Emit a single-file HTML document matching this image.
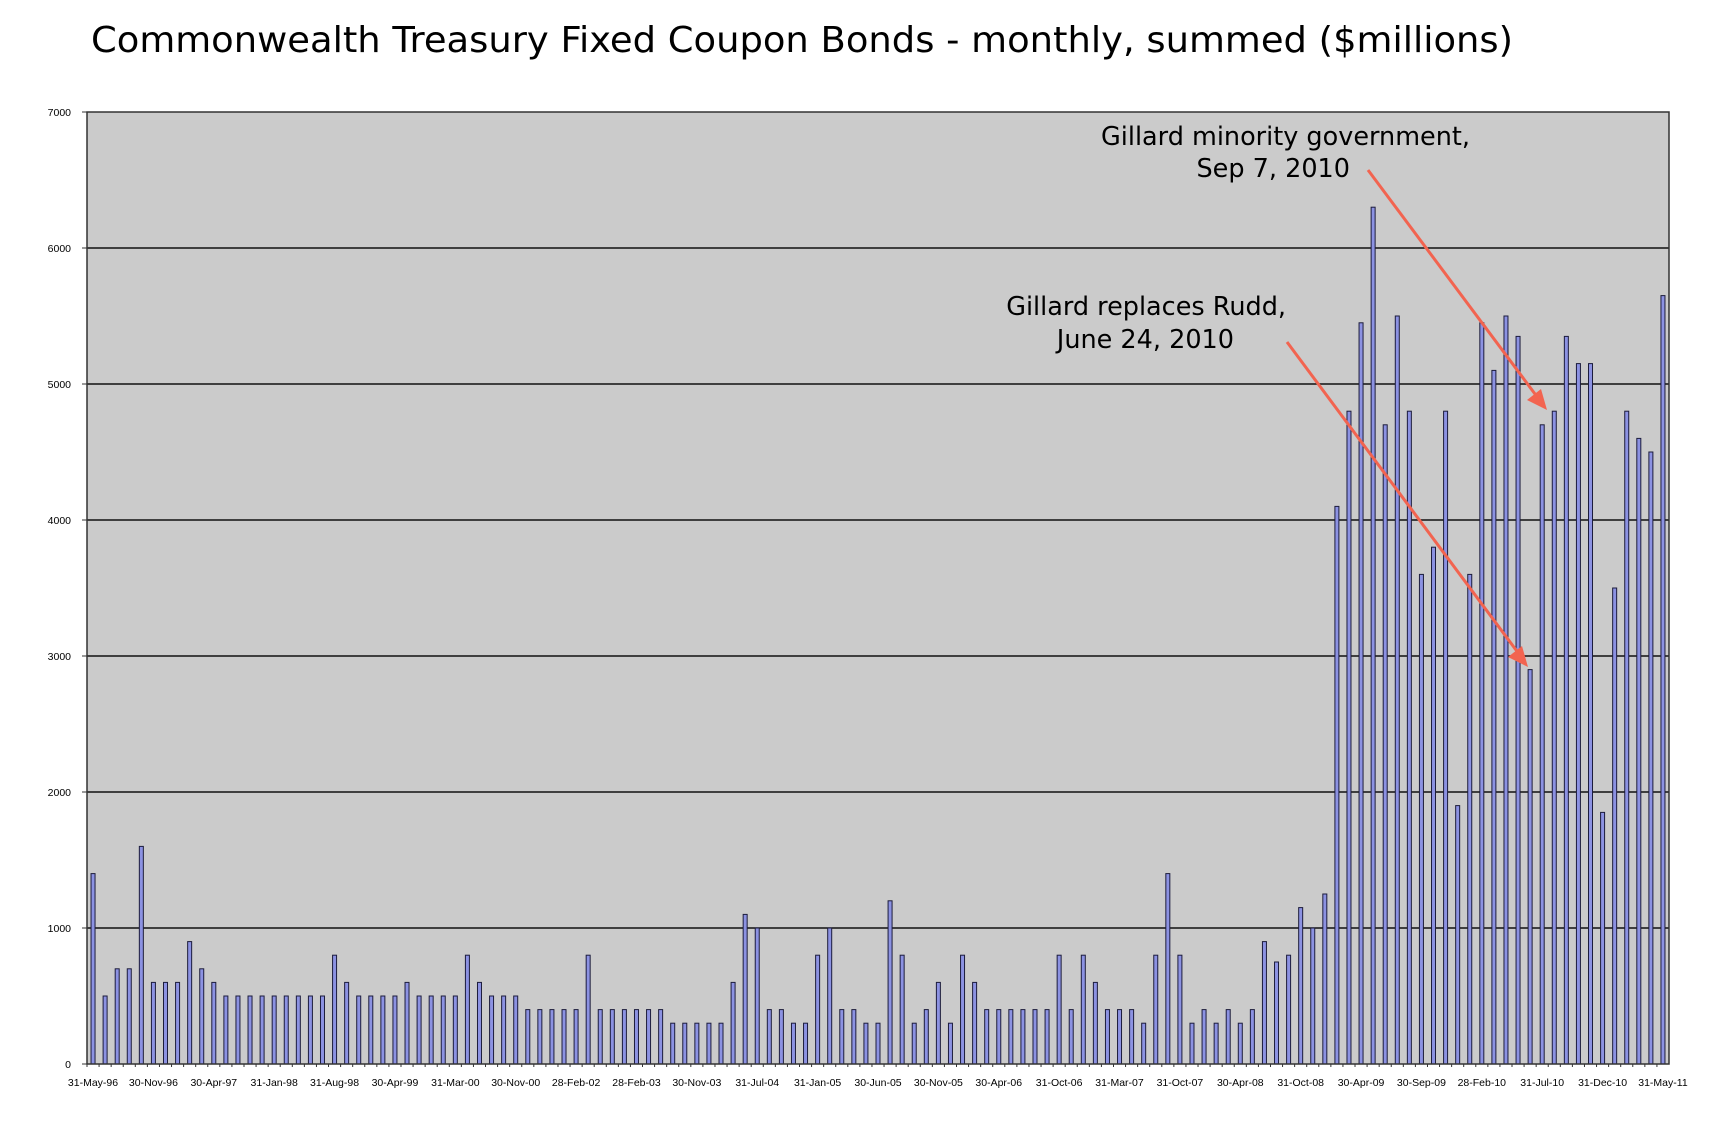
<!DOCTYPE html>
<html><head><meta charset="utf-8"><style>html,body{margin:0;padding:0;background:#fff}svg{display:block}</style></head>
<body>
<svg id="c" width="1734" height="1142" xmlns="http://www.w3.org/2000/svg">
<rect width="1734" height="1142" fill="#fff"/>
<text x="91" y="52" font-family="DejaVu Sans, sans-serif" font-size="36" textLength="1422" lengthAdjust="spacingAndGlyphs" fill="#000">Commonwealth Treasury Fixed Coupon Bonds - monthly, summed ($millions)</text>
<rect x="87" y="112" width="1582" height="952" fill="#cbcbcb"/>
<g id="grid"></g>
<g id="bars"></g>
<rect x="87" y="112" width="1582" height="952" fill="none" stroke="#333" stroke-width="1.5"/>
<g id="ticks"></g>
<g font-family="DejaVu Sans, sans-serif" font-size="25.5" fill="#000" text-anchor="end">
<text x="1470" y="145">Gillard minority government,</text>
<text x="1350" y="177">Sep 7, 2010</text>
<text x="1286" y="315">Gillard replaces Rudd,</text>
<text x="1234" y="348">June 24, 2010</text>
</g>
<g stroke="#f26450" stroke-width="3" fill="#f26450">
<line x1="1368" y1="170" x2="1538" y2="398"/>
<polygon points="1547,410 1527,400 1541,389" stroke="none"/>
<line x1="1287" y1="342" x2="1519" y2="654"/>
<polygon points="1528,667 1508,657 1522,646" stroke="none"/>
</g>
</svg>
<script>
var v=[1400,500,700,700,1600,600,600,600,900,700,600,500,500,500,500,500,500,500,500,500,800,600,500,500,500,500,600,500,500,500,500,800,600,
500,500,500,400,400,400,400,400,800,400,400,400,400,400,400,300,300,300,300,300,600,1100,1000,400,400,300,300,800,1000,400,400,300,300,
1200,800,300,400,600,300,800,600,400,400,400,400,400,400,800,400,800,600,400,400,400,300,800,1400,800,300,400,300,400,300,400,900,750,800,
1150,1000,1250,4100,4800,5450,6300,4700,5500,4800,3600,3800,4800,1900,3600,5450,5100,5500,5350,2900,4700,4800,5350,5150,5150,1850,3500,4800,4600,4500,5650];
var labs=["31-May-96","30-Nov-96","30-Apr-97","31-Jan-98","31-Aug-98","30-Apr-99","31-Mar-00","30-Nov-00","28-Feb-02","28-Feb-03","30-Nov-03","31-Jul-04","31-Jan-05","30-Jun-05","30-Nov-05","30-Apr-06","31-Oct-06","31-Mar-07","31-Oct-07","30-Apr-08","31-Oct-08","30-Apr-09","30-Sep-09","28-Feb-10","31-Jul-10","31-Dec-10","31-May-11"];
var NS="http://www.w3.org/2000/svg",s=document.getElementById('c');
function el(t,a,p,txt){var e=document.createElementNS(NS,t);for(var k in a)e.setAttribute(k,a[k]);if(txt)e.textContent=txt;(p||s).appendChild(e);return e;}
var g=document.getElementById('grid'),b=document.getElementById('bars'),tk=document.getElementById('ticks');
var x0=87,w=1582,y0=1064,ppk=0.136,n=v.length,cw=w/n;
for(var i=0;i<=7;i++){var y=y0-i*136;
 if(i>0&&i<7)el('line',{x1:x0,x2:x0+w,y1:y,y2:y,stroke:'#111','stroke-width':1.5},g);
 el('line',{x1:x0-5,x2:x0,y1:y,y2:y,stroke:'#333'},tk);
 el('text',{x:71,y:y+4,'font-family':'Liberation Sans, sans-serif','font-size':10.5,'text-anchor':'end'},tk,String(i*1000));}
for(var i=0;i<n;i++){var cx=x0+cw*(i+0.5),h=v[i]*ppk;
 el('rect',{x:cx-2,y:y0-h,width:4,height:h,fill:'#8c92e2',stroke:'#1c1c3c','stroke-width':1},b);
 el('line',{x1:x0+cw*i,x2:x0+cw*i,y1:y0,y2:y0+3,stroke:'#333'},tk);}
for(var j=0;j<labs.length;j++){var cx=x0+cw*(j*5+0.5);
 el('text',{x:cx,y:1086,'font-family':'Liberation Sans, sans-serif','font-size':10.5,'text-anchor':'middle'},tk,labs[j]);}
</script>
</body></html>
